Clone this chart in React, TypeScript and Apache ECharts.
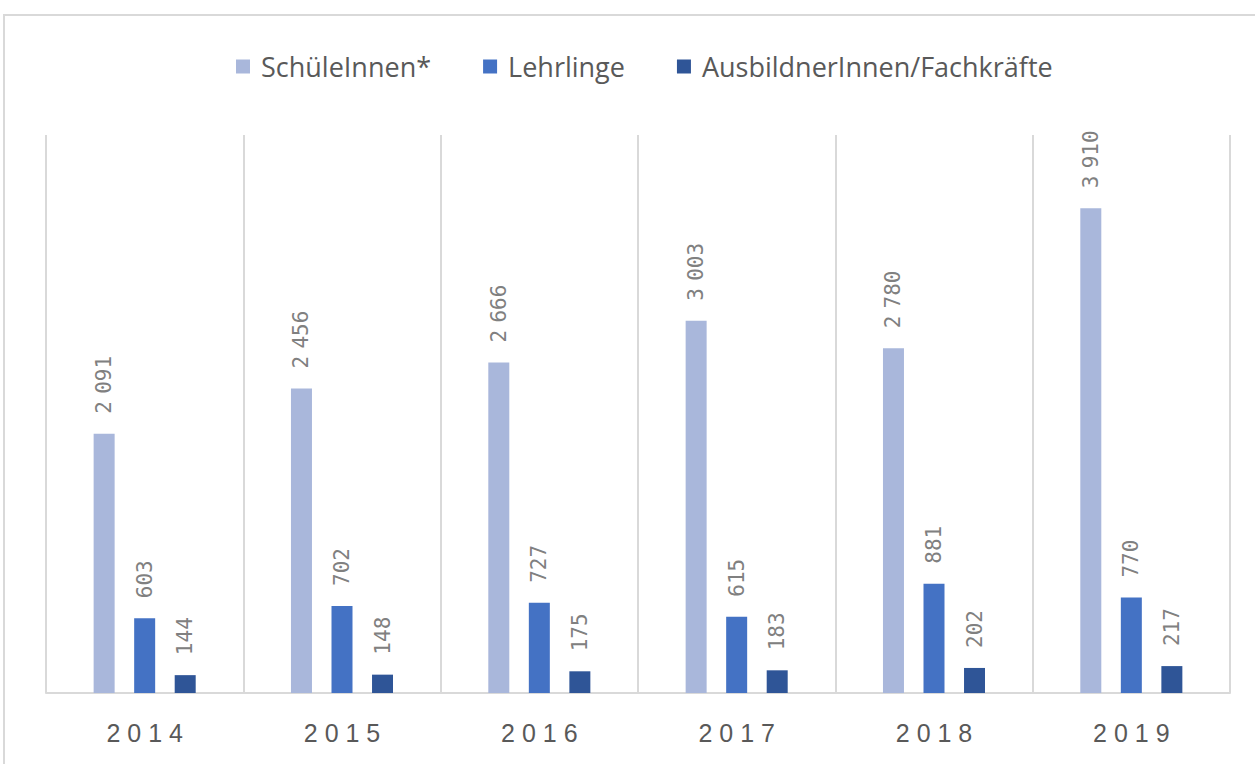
import React, { useEffect, useRef } from "react";
import * as echarts from "echarts";

const years = ["2014", "2015", "2016", "2017", "2018", "2019"];
const schueler = [2091, 2456, 2666, 3003, 2780, 3910];
const lehrlinge = [603, 702, 727, 615, 881, 770];
const ausbildner = [144, 148, 175, 183, 202, 217];
const seriesNames = ["SchüleInnen*", "Lehrlinge", "AusbildnerInnen/Fachkräfte"];
const colors = ["#A9B7DB", "#4472C4", "#2F5597"];

const fmt = (v: number) => {
  const s = String(v);
  if (s.length <= 3) return `{d|${s}}`;
  return `{d|${s.slice(0, s.length - 3)}}{s|\u00a0}{d|${s.slice(s.length - 3)}}`;
};

export default function App() {
  const ref = useRef<HTMLDivElement>(null);
  useEffect(() => {
    const chart = echarts.init(ref.current!, null, { renderer: "svg" });
    const label = {
      show: true,
      position: "top" as const,
      rotate: 90,
      align: "left" as const,
      verticalAlign: "middle" as const,
      distance: 20,
      color: "#808080",
      fontFamily: "DejaVu Sans Mono",
      fontSize: 21,
      formatter: (p: any) => fmt(p.value),
      rich: {
        d: { color: "#808080", fontFamily: "DejaVu Sans Mono", fontSize: 21 },
        s: { color: "#808080", fontFamily: "DejaVu Sans Mono", fontSize: 12 },
      },
    };
    const datas = [schueler, lehrlinge, ausbildner];
    chart.setOption({
      animation: false,
      backgroundColor: "#ffffff",
      graphic: [
        {
          type: "rect",
          shape: { x: 4, y: 15, width: 1300, height: 800 },
          style: { fill: "none", stroke: "#D9D9D9", lineWidth: 2 },
          silent: true,
        },
      ],
      legend: {
        top: 48,
        left: 231,
        itemWidth: 14,
        itemHeight: 14,
        itemGap: 52,
        icon: "rect",
        textStyle: {
          color: "#595959",
          fontFamily: "Open Sans",
          fontSize: 27,
          padding: [0, 0, 0, 6],
        },
        data: seriesNames,
      },
      grid: { left: 46, right: 25, top: 135, bottom: 71 },
      xAxis: {
        type: "category",
        data: years,
        axisLine: { lineStyle: { color: "#D9D9D9", width: 2 } },
        axisTick: { show: false },
        splitLine: { show: true, interval: 0, lineStyle: { color: "#D9D9D9", width: 2 } },
        axisLabel: {
          color: "#595959",
          fontFamily: "Liberation Sans",
          fontSize: 25,
          margin: 27,
          formatter: (v: string) => v.split("").join(" "),
        },
      },
      yAxis: {
        type: "value",
        min: 0,
        max: 4500,
        show: false,
        splitLine: { show: false },
      },
      series: seriesNames.map((name, i) => ({
        name,
        type: "bar",
        data: datas[i],
        barWidth: 21,
        barGap: "93%",
        itemStyle: { color: colors[i] },
        label,
      })),
    });
    return () => chart.dispose();
  }, []);
  return (
    <div
      ref={ref}
      style={{ position: "fixed", left: 0, top: 0, width: 1255, height: 764 }}
    />
  );
}
